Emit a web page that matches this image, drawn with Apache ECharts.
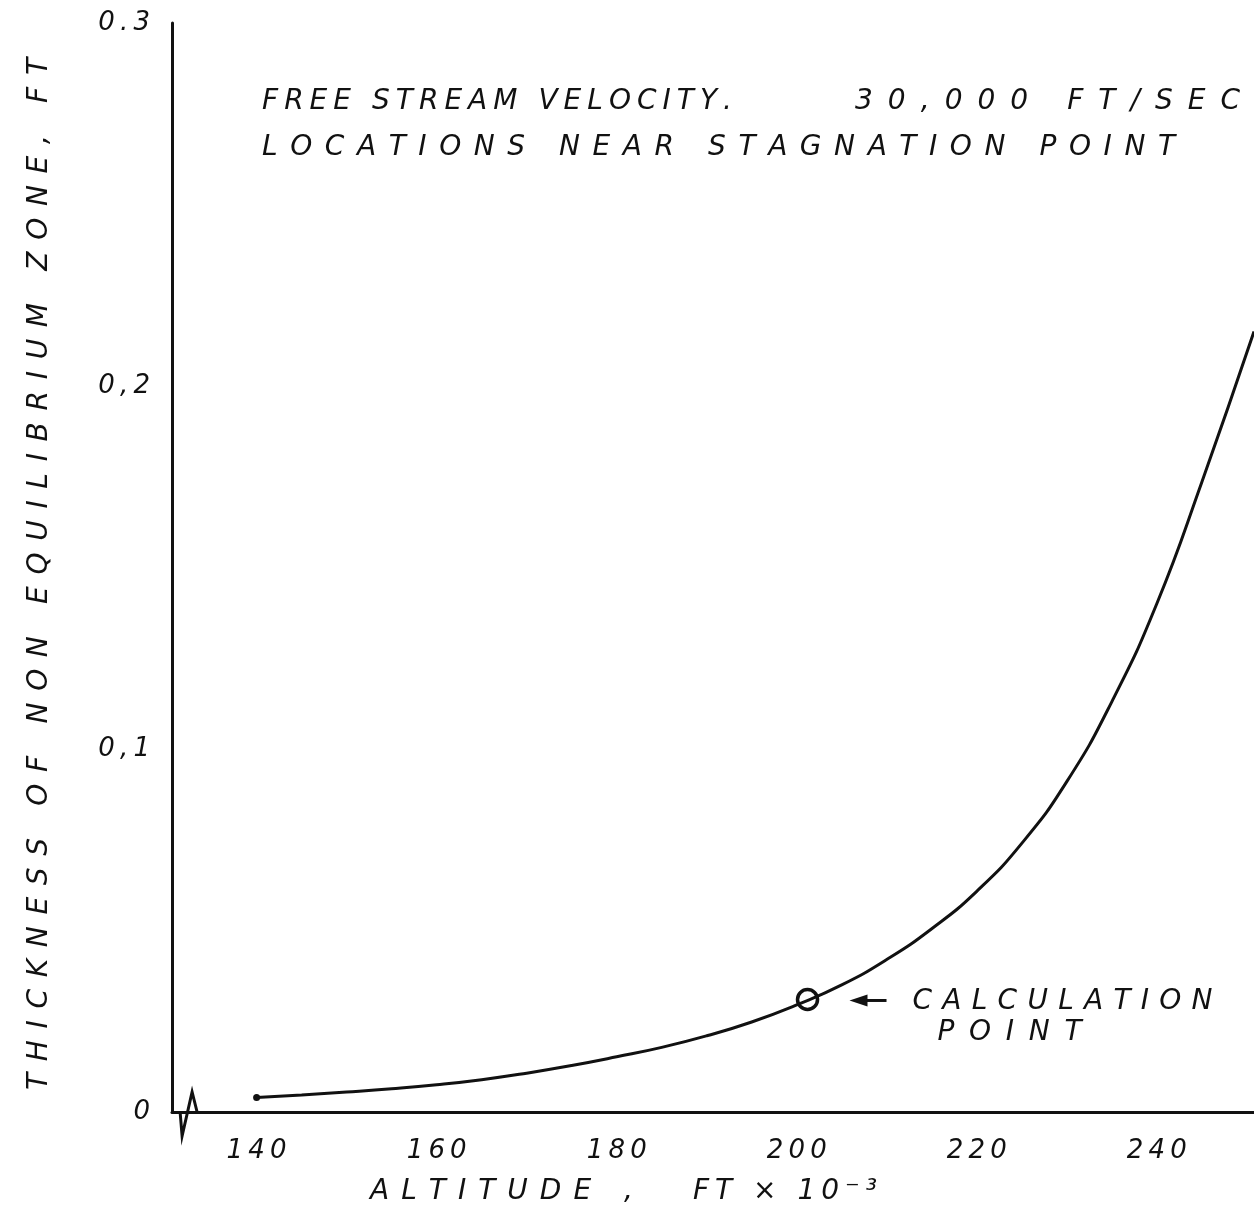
<!DOCTYPE html>
<html>
<head>
<meta charset="utf-8">
<script src="https://cdn.jsdelivr.net/npm/echarts@6/dist/echarts.min.js"></script>
<style>
  html, body { margin: 0; background: #fff; }
  #chart { width: 1254px; height: 1214px; }
</style>
</head>
<body>
<div id="chart"></div>
<script>
// altitude in ft x 10^-3, thickness in ft
const altitude = [140, 145, 150, 155, 160, 165, 170, 175, 180, 185, 190, 195, 200, 205, 210, 215, 220, 225, 230, 235, 240, 245, 250.8];
const thickness = [0.004, 0.0047, 0.0055, 0.0064, 0.0075, 0.0089, 0.0107, 0.0128, 0.0152, 0.0178, 0.021, 0.0248, 0.0295,
  0.035, 0.042, 0.0505, 0.0608, 0.074, 0.091, 0.113, 0.14, 0.1735, 0.215];
const calcPoint = [201.2, 0.031];
const xTicks = [140, 160, 180, 200, 220, 240];
const yTickLabels = ['0', '0,1', '0,2', '0.3'];
const noteLine1 = ['FREE STREAM VELOCITY.', '30,000 FT/SEC'];
const noteLine2 = 'LOCATIONS NEAR STAGNATION POINT';
const yName = 'THICKNESS OF NON EQUILIBRIUM ZONE, FT';
const xName = ['ALTITUDE ,', 'FT \u00d7 10\u207b\u00b3'];
const calcLabel = ['CALCULATION', 'POINT'];

const FONT = 'DejaVu Sans';
const ink = '#111';

const chart = echarts.init(document.getElementById('chart'));

chart.setOption({
  backgroundColor: '#fff',
  animation: false,
  grid: { left: 172, right: 0, top: 23, bottom: 102, containLabel: false },
  xAxis: {
    type: 'value',
    min: 130.6,
    max: 250.8,
    axisLine: { lineStyle: { color: ink, width: 3 } },
    axisTick: { show: false },
    splitLine: { show: false },
    axisLabel: {
      customValues: xTicks,
      margin: 26,
      color: ink,
      fontFamily: FONT,
      fontStyle: 'italic',
      fontSize: 26,
      formatter: (v) => String(v).split('').join('\u2009'),
    },
  },
  yAxis: {
    type: 'value',
    min: 0,
    max: 0.3,
    interval: 0.1,
    axisLine: { show: true, lineStyle: { color: ink, width: 3 } },
    axisTick: { show: false },
    splitLine: { show: false },
    axisLabel: {
      margin: 22,
      color: ink,
      fontFamily: FONT,
      fontStyle: 'italic',
      fontSize: 26,
      formatter: (v, i) => yTickLabels[i].split('').join('\u2009'),
    },
  },
  series: [
    {
      type: 'line',
      smooth: 0.5,
      data: altitude.map((a, i) => i === 0
        ? { value: [a, thickness[i]], symbol: 'circle', symbolSize: 7 }
        : [a, thickness[i]]),
      symbol: 'none',
      lineStyle: { color: ink, width: 3 },
      itemStyle: { color: ink },
    },
    {
      type: 'scatter',
      data: [calcPoint],
      symbol: 'circle',
      symbolSize: 20,
      itemStyle: { color: 'transparent', borderColor: ink, borderWidth: 3.5, opacity: 1 },
      z: 5,
    },
  ],
});

// hand lettering: spread each character evenly over a given length
const measure = document.createElement('canvas').getContext('2d');
function lettered(s, x, y, length, size, rotation) {
  const font = 'italic ' + size + 'px "' + FONT + '"';
  measure.font = font;
  const chars = s.split('');
  const widths = chars.map((c) => measure.measureText(c).width);
  const gap = (length - widths.reduce((a, b) => a + b, 0)) / (chars.length - 1);
  let pos = 0;
  const children = chars.map((c, i) => {
    const el = { type: 'text', x: pos, y: 0, style: { text: c, fill: ink, font, verticalAlign: 'middle' } };
    pos += widths[i] + gap;
    return el;
  });
  return { type: 'group', x, y, rotation: rotation || 0, children };
}

const [cx, cy] = chart.convertToPixel({ gridIndex: 0 }, calcPoint);
const [bx, by] = chart.convertToPixel({ gridIndex: 0 }, [131.5, 0]);

chart.setOption({
  graphic: [
    lettered(noteLine1[0], 262, 102, 470, 28),
    lettered(noteLine1[1], 855, 102, 385, 28),
    lettered(noteLine2, 262, 148, 913, 28),
    lettered(yName, 40, 1090, 1032, 28, Math.PI / 2),
    lettered(xName[0], 370, 1192, 263, 28),
    lettered(xName[1], 693, 1192, 184, 28),
    lettered(calcLabel[0], cx + 105, cy + 2, 300, 28),
    lettered(calcLabel[1], cx + 130, cy + 33, 144, 28),
    // arrow pointing back at the calculation point
    { type: 'line', shape: { x1: cx + 48, y1: cy + 1, x2: cx + 79, y2: cy + 1 }, style: { stroke: ink, lineWidth: 3 } },
    { type: 'polygon', shape: { points: [[cx + 42, cy + 1], [cx + 60, cy - 5], [cx + 60, cy + 7]] }, style: { fill: ink } },
    // axis break zig-zag
    {
      type: 'polyline',
      shape: { points: [[bx, by], [bx + 2, by + 24], [bx + 12, by - 20], [bx + 17, by]] },
      style: { stroke: ink, lineWidth: 3, fill: null },
    },
  ],
});
</script>
</body>
</html>
